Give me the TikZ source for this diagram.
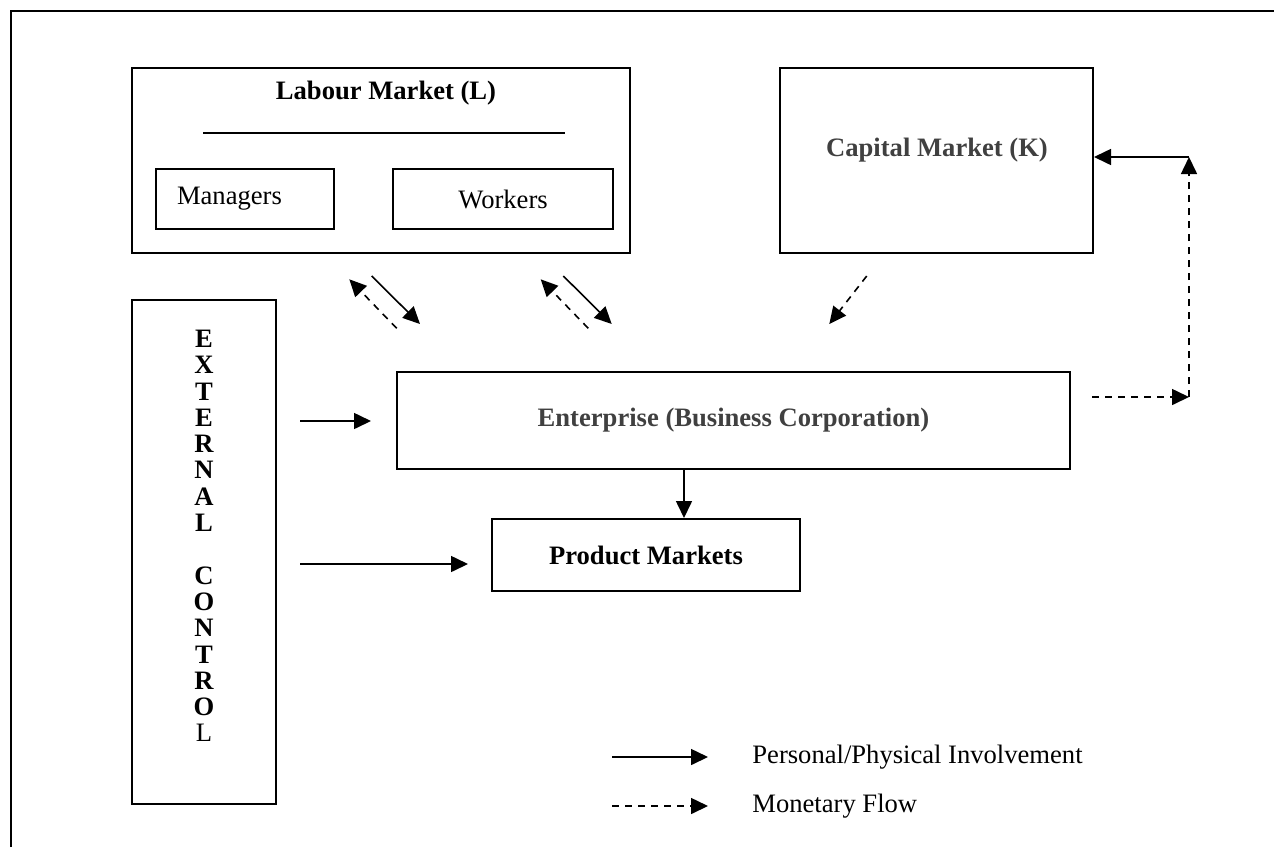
\documentclass[tikz,border=0pt]{standalone}
\usepackage{fontspec}
\setmainfont{Liberation Serif}
\usetikzlibrary{arrows.meta}
\definecolor{DarkText}{RGB}{64,64,64}

\begin{document}
\begin{tikzpicture}[x=0.5pt,y=-0.5pt,
    font=\fontsize{13.3}{16}\selectfont,
    box/.style={draw,line width=1pt,inner sep=0pt},
    phys/.style={line width=0.8pt,-{Triangle[length=8.5pt,width=8pt]}},
    money/.style={phys,dash pattern=on 3.5pt off 3pt}]
  \useasboundingbox (0,0) rectangle (1274,847);
  % page frame
  \draw[line width=1.3pt] (11,847) -- (11,11) -- (1274,11);
  % labour market
  \node[box,minimum width=249pt,minimum height=92.5pt] (lab) at (381,160.5) {};
  \node[font=\fontsize{13.3}{16}\selectfont\bfseries] (labtxt) at (386,93) {Labour Market (L)};
  \draw[line width=1pt] (203,133) -- (565,133);
  \node[box,minimum height=30pt,text width=68pt,inner xsep=10.5pt,align=left] (mgr) at (245,199) {Managers};
  \node[box,minimum width=110pt,minimum height=30pt] (wrk) at (503,199) {Workers};
  % capital market
  \node[box,minimum width=156.5pt,minimum height=92.5pt] (cap) at (936.5,160.5) {};
  \node[font=\fontsize{13.3}{16}\selectfont\bfseries,text=DarkText] (captxt) at (937,150) {Capital Market (K)};
  % external control
  \node[box,minimum width=72pt,minimum height=252pt] (ext) at (204,552) {};
  \node[font=\fontsize{13.3}{13.15}\selectfont\bfseries,align=center] (exttxt) at (204,536)
    {E\\X\\T\\E\\R\\N\\A\\L\\\mbox{}\\C\\O\\N\\T\\R\\O\\{\mdseries L}};
  % enterprise and product markets
  \node[box,minimum width=336.5pt,minimum height=48.5pt,font=\fontsize{13.3}{16}\selectfont\bfseries,text=DarkText] (ent) at (733.5,420.5) {Enterprise (Business Corporation)};
  \node[box,minimum width=154pt,minimum height=36pt,font=\fontsize{13.3}{16}\selectfont\bfseries] (prod) at (646,555) {Product Markets};

  % flows between labour market and enterprise
  \coordinate (m1a) at (396.7,328.3); \coordinate (m1b) at (349.3,279.3);
  \coordinate (p1a) at (371.7,276);   \coordinate (p1b) at (420,324);
  \coordinate (m2a) at (588.3,328.3); \coordinate (m2b) at (540.7,279.3);
  \coordinate (p2a) at (563.3,276);   \coordinate (p2b) at (611.7,324);
  \draw[money] (m1a) -- (m1b);
  \draw[phys] (p1a) -- (p1b);
  \draw[money] (m2a) -- (m2b);
  \draw[phys] (p2a) -- (p2b);
  % capital into enterprise
  \coordinate (k1a) at (866.7,276); \coordinate (k1b) at (829.3,324);
  \draw[money] (k1a) -- (k1b);
  % enterprise to product markets
  \coordinate (ep) at (684,0);
  \draw[phys] (ep |- ent.south) -- (ep |- prod.north);
  % return flow to capital market
  \coordinate (rs) at (1092,397);
  \coordinate (rc) at (1189,397);
  \coordinate (rt) at (1189,157);
  \draw[money] (rs) -- (rc);
  \draw[money] (rc) -- (rt);
  \draw[phys] (rt) -- (cap.east |- rt);
  % external control
  \coordinate (x1a) at (300,421); \coordinate (x1b) at (371,421);
  \coordinate (x2a) at (300,564); \coordinate (x2b) at (468,564);
  \draw[phys] (x1a) -- (x1b);
  \draw[phys] (x2a) -- (x2b);

  % legend
  \coordinate (l1a) at (612,757); \coordinate (l1b) at (708,757);
  \coordinate (l2a) at (612,806); \coordinate (l2b) at (708,806);
  \draw[phys] (l1a) -- (l1b);
  \draw[money] (l2a) -- (l2b);
  \node[anchor=west,inner sep=0pt] (leg1) at (752,757) {Personal/Physical Involvement};
  \node[anchor=west,inner sep=0pt] (leg2) at (752,806) {Monetary Flow};
\end{tikzpicture}
\end{document}
